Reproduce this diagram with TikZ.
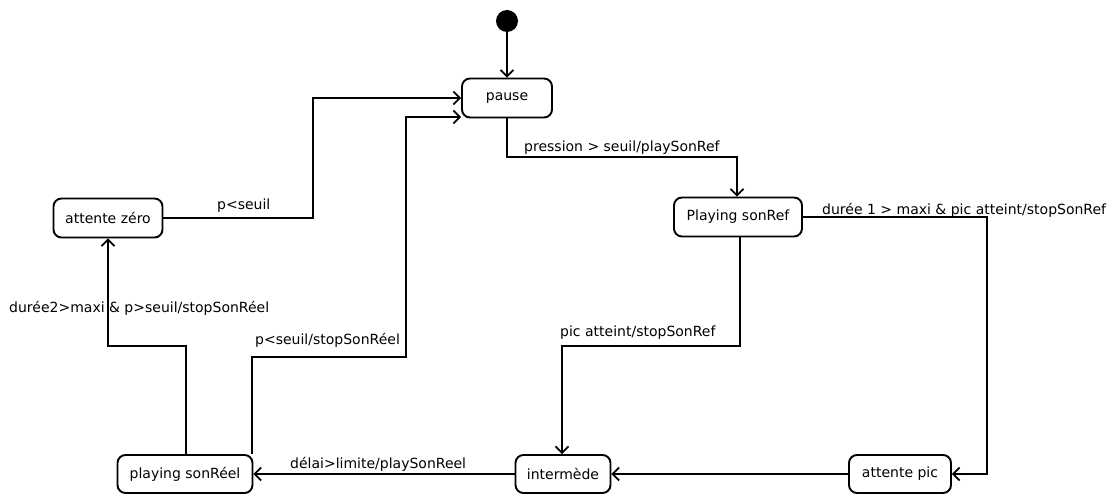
\documentclass[tikz,border=0pt]{standalone}
\usepackage{fontspec}
\setmainfont{DejaVu Sans}
\usetikzlibrary{arrows.meta}
\begin{document}
\begin{tikzpicture}[x=1pt,y=-1pt,
  state/.style={draw,line width=1.9pt,rounded corners=8pt,minimum height=39pt,inner sep=0pt,font=\fontsize{14}{16}\selectfont},
  tr/.style={line width=1.7pt,-{Straight Barb[length=6.5pt,width=13pt,line width=1.7pt]}},
  lbl/.style={anchor=base west,inner sep=0pt,font=\fontsize{14}{16}\selectfont}]
\useasboundingbox (0,0) rectangle (1117,494);
\node[circle,fill=black,minimum size=22pt,inner sep=0pt] (init) at (507,21) {};
\node[state,minimum width=90pt] (pause) at (507,98) {pause};
\node[state,minimum width=128pt] (psr) at (738,217) {Playing sonRef};
\node[state,minimum width=109pt] (az) at (108,218) {attente zéro};
\node[state,minimum width=135pt,minimum height=38pt] (pre) at (185,474) {playing sonRéel};
\node[state,minimum width=95pt,minimum height=38pt] (int) at (563,474) {intermède};
\node[state,minimum width=102pt,minimum height=38pt] (ap) at (900,474) {attente pic};

\draw[tr] (init) -- (pause);
\draw[tr] (pause.south) -- (507,157) -- (737,157) -- (psr.north -| 737,0);
\node[lbl] (l1) at (524,152) {pression > seuil/playSonRef};
\draw[tr] (psr.east) -- (987,217) -- (987,474) -- (ap.east);
\node[lbl] (l2) at (822,215) {durée 1 > maxi \& pic atteint/stopSonRef};
\draw[tr] (psr.south -| 740,0) -- (740,346) -- (562,346) -- (int.north -| 562,0);
\node[lbl] (l3) at (560,337) {pic atteint/stopSonRef};
\draw[tr] (ap.west) -- (int.east);
\draw[tr] (int.west) -- (pre.east);
\node[lbl] (l4) at (290,468) {délai>limite/playSonReel};
\draw[tr] (pre.north -| 186,0) -- (186,346) -- (108,346) -- (az.south);
\node[lbl] (l5) at (9,313) {durée2>maxi \& p>seuil/stopSonRéel};
\draw[tr] (pre.north -| 252,0) -- (252,357) -- (406,357) -- (406,117) -- (pause.west |- 0,117);
\node[lbl] (l6) at (255,345) {p<seuil/stopSonRéel};
\draw[tr] (az.east) -- (313,218) -- (313,98) -- (pause.west);
\node[lbl] (l7) at (217,210) {p<seuil};
\end{tikzpicture}
\end{document}
